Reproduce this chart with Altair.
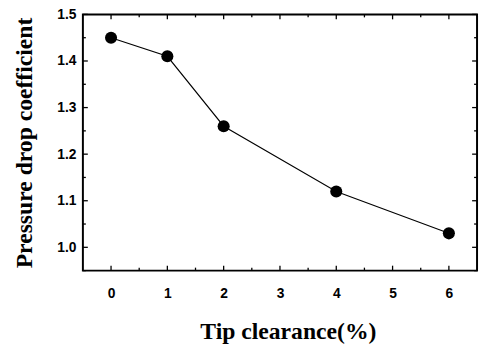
import altair as alt
import pandas as pd

clearance = [0, 1, 2, 4, 6]
coef = [1.45, 1.41, 1.26, 1.12, 1.03]

x_major = [0, 1, 2, 3, 4, 5, 6]
x_minor = [0.5, 1.5, 2.5, 3.5, 4.5, 5.5]
y_major = [1.0, 1.1, 1.2, 1.3, 1.4, 1.5]
y_minor = [0.95, 1.05, 1.15, 1.25, 1.35, 1.45]

W, H = 400, 260

df = pd.DataFrame({"x": clearance, "y": coef})
xs = alt.Scale(domain=[-0.5, 6.5], nice=False, zero=False)
ys = alt.Scale(domain=[0.95, 1.5], nice=False, zero=False)

xaxis = alt.Axis(title="Tip clearance(%)", values=x_major, format="d", domain=False,
                 ticks=False, grid=False, labelPadding=16, titlePadding=20, titleX=208,
                 labelFont="Liberation Sans", labelFontSize=14, labelFontWeight="bold",
                 labelColor="black", titleFont="Liberation Serif", titleFontSize=24,
                 titleFontWeight="bold", titleColor="black")
yaxis = alt.Axis(title="Pressure drop coefficient", values=y_major, format=".1f", domain=False,
                 ticks=False, grid=False, labelPadding=7, titlePadding=21,
                 labelFont="Liberation Sans", labelFontSize=14, labelFontWeight="bold",
                 labelColor="black", titleFont="Liberation Serif", titleFontSize=24,
                 titleFontWeight="bold", titleColor="black")

line = alt.Chart(df).mark_line(color="black", strokeWidth=1.1).encode(
    x=alt.X("x:Q", scale=xs, axis=xaxis),
    y=alt.Y("y:Q", scale=ys, axis=yaxis),
)
pts = alt.Chart(df).mark_circle(color="black", opacity=1, size=150).encode(
    x=alt.X("x:Q", scale=xs), y=alt.Y("y:Q", scale=ys))


def xticks(vals, length):
    d = pd.DataFrame({"v": vals})
    bottom = alt.Chart(d).mark_rule(color="black", strokeWidth=1.3).encode(
        x=alt.X("v:Q", scale=xs), y=alt.value(H), y2=alt.value(H - length))
    top = alt.Chart(d).mark_rule(color="black", strokeWidth=1.3).encode(
        x=alt.X("v:Q", scale=xs), y=alt.value(0), y2=alt.value(length))
    return [bottom, top]


def yticks(vals, length):
    d = pd.DataFrame({"v": vals})
    left = alt.Chart(d).mark_rule(color="black", strokeWidth=1.3).encode(
        y=alt.Y("v:Q", scale=ys), x=alt.value(0), x2=alt.value(length))
    right = alt.Chart(d).mark_rule(color="black", strokeWidth=1.3).encode(
        y=alt.Y("v:Q", scale=ys), x=alt.value(W), x2=alt.value(W - length))
    return [left, right]


layers = [line, pts] + xticks(x_major, 5) + xticks(x_minor, 3) + yticks(y_major, 5) + yticks(y_minor, 3)

chart = alt.layer(*layers).properties(
    width=W, height=H,
    background="white",
    autosize=alt.AutoSizeParams(type="none"),
    padding={"left": 76, "top": 4, "right": 3, "bottom": 74},
).configure_view(stroke="black", strokeWidth=2)

chart.save("out.html", embed_options={"renderer": "svg", "actions": False})
